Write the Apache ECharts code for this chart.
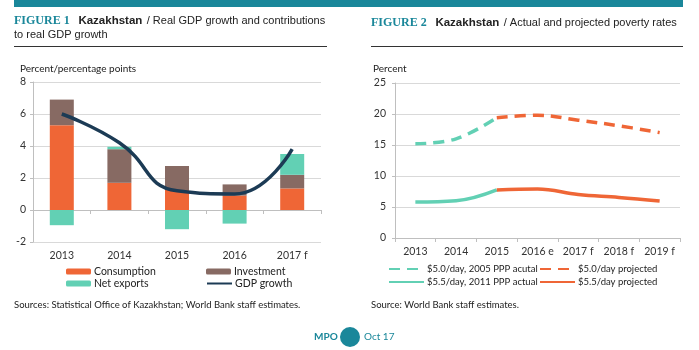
<!DOCTYPE html>
<html>
<head>
<meta charset="utf-8">
<script src="https://cdn.jsdelivr.net/npm/echarts@6/dist/echarts.min.js"></script>
<style>
  html, body { margin: 0; padding: 0; background: #fff; }
  #chart { width: 699px; height: 350px; }
</style>
</head>
<body>
<div id="chart"></div>
<script>
// Figure 1 data
const years1 = ['2013', '2014', '2015', '2016', '2017 f']
const consumption = [5.3, 1.7, 1.25, 0.9, 1.35]
const investment = [1.6, 2.1, 1.5, 0.7, 0.85]
const netExports = [-0.95, 0.15, -1.2, -0.85, 1.3]
const gdpGrowth = [6.0, 4.2, 1.2, 1.0, 3.8]
// Figure 2 data
const years2 = ['2013', '2014', '2015', '2016 e', '2017 f', '2018 f', '2019 f']
const pov50Actual = [15.2, 16.0, 19.4, null, null, null, null]
const pov50Proj = [null, null, 19.4, 19.8, 19.0, 18.1, 17.0]
const pov55Actual = [5.8, 6.0, 7.75, null, null, null, null]
const pov55Proj = [null, null, 7.75, 7.9, 7.0, 6.55, 5.95]

const teal = '#1A879A'
const cOrange = '#EF6636'
const cBrown = '#876A63'
const cMint = '#62D0B4'
const cNavy = '#1C3B55'
const font = 'Lato'
const wide = 'Liberation Sans'
const gridColor = '#D9D9D9'

const chart = echarts.init(document.getElementById('chart'))

const titleRich = {
  a: { fontFamily: 'Liberation Serif', fontWeight: 'bold', fontSize: 12, color: teal },
  b: { fontFamily: wide, fontWeight: 'bold', fontSize: 11.5, color: '#222' },
  c: { fontFamily: wide, fontWeight: 'normal', fontSize: 11, color: '#222' }
}

// legend helper - one legend per item so they can sit in a 2x2 block
const leg = (name, left, top, w, h, fs) => ({
  data: [name], left: left, top: top, itemWidth: w, itemHeight: h,
  padding: 0, itemGap: 0,
  itemStyle: { opacity: 0 },
  textStyle: { fontFamily: font, fontSize: fs || 10.5, color: '#222', padding: [0, 0, 0, -2] }
})
const barLeg = (name, left, top) => Object.assign(leg(name, left, top, 25, 6), { itemStyle: {} })

const option = {
  animation: false,
  textStyle: { fontFamily: font },
  title: [
    {
      left: 14, top: 14, padding: 0,
      text: '{a|FIGURE 1}  {b|Kazakhstan} {c|/ Real GDP growth and contributions}\n{c|to real GDP growth}',
      textStyle: { rich: titleRich, lineHeight: 14 }
    },
    {
      left: 371, top: 14, padding: 0,
      text: '{a|FIGURE 2}  {b|Kazakhstan} {c|/ Actual and projected poverty rates}',
      textStyle: { rich: titleRich }
    }
  ],
  legend: [
    barLeg('Consumption', 66, 266),
    barLeg('Investment', 206, 266),
    barLeg('Net exports', 66, 278),
    leg('GDP growth', 206, 278, 25, 6),
    leg('$5.0/day, 2005 PPP acutal', 388, 264, 35, 12, 9.5),
    leg('$5.0/day projected', 539, 264, 35, 12, 9.5),
    leg('$5.5/day, 2011 PPP actual', 388, 277, 35, 12, 9.5),
    leg('$5.5/day projected', 539, 277, 35, 12, 9.5)
  ],
  grid: [
    { left: 33, top: 82, width: 288, height: 160 },
    { left: 395, top: 83, width: 285, height: 155 }
  ],
  xAxis: [
    {
      gridIndex: 0, type: 'category', data: years1,
      axisLine: { show: false, onZero: false }, axisTick: { show: false },
      axisLabel: { fontSize: 10.5, color: '#333', margin: 8, interval: 0 }
    },
    {
      gridIndex: 0, type: 'category', data: years1, position: 'bottom',
      axisLine: { onZero: true, lineStyle: { color: '#BFBFBF' } },
      axisTick: { show: true, length: 4, lineStyle: { color: '#BFBFBF' } },
      axisLabel: { show: false }
    },
    {
      gridIndex: 1, type: 'category', data: years2,
      axisLine: { lineStyle: { color: '#BFBFBF' } },
      axisTick: { show: true, length: 4, lineStyle: { color: '#BFBFBF' } },
      axisLabel: { fontSize: 10.5, color: '#333', margin: 8, interval: 0 }
    }
  ],
  yAxis: [
    {
      gridIndex: 0, type: 'value', min: -2, max: 8, interval: 2,
      axisLine: { show: true, lineStyle: { color: '#BFBFBF' } },
      axisTick: { show: true, length: 3, lineStyle: { color: '#BFBFBF' } },
      axisLabel: { fontSize: 10.5, color: '#333', margin: 7 },
      splitLine: { lineStyle: { color: gridColor } }
    },
    {
      gridIndex: 1, type: 'value', min: 0, max: 25, interval: 5,
      axisLine: { show: true, lineStyle: { color: '#BFBFBF' } },
      axisTick: { show: true, length: 3, lineStyle: { color: '#BFBFBF' } },
      axisLabel: { fontSize: 10.5, color: '#333', margin: 9 },
      splitLine: { lineStyle: { color: gridColor } }
    }
  ],
  series: [
    { name: 'Consumption', type: 'bar', stack: 'c', data: consumption, barWidth: 24,
      itemStyle: { color: cOrange } },
    { name: 'Investment', type: 'bar', stack: 'c', data: investment, barWidth: 24,
      itemStyle: { color: cBrown } },
    { name: 'Net exports', type: 'bar', stack: 'c', data: netExports, barWidth: 24,
      itemStyle: { color: cMint } },
    { name: 'GDP growth', type: 'line', data: gdpGrowth, smooth: 0.5, symbol: 'none',
      lineStyle: { color: cNavy, width: 3.5 }, itemStyle: { color: cNavy } },
    { name: '$5.0/day, 2005 PPP acutal', type: 'line', xAxisIndex: 2, yAxisIndex: 1,
      data: pov50Actual, smooth: 0.4, symbol: 'none',
      lineStyle: { color: cMint, width: 3.5, type: [11, 7] }, itemStyle: { color: cMint } },
    { name: '$5.0/day projected', type: 'line', xAxisIndex: 2, yAxisIndex: 1,
      data: pov50Proj, smooth: 0.4, symbol: 'none',
      lineStyle: { color: cOrange, width: 3.5, type: [11, 7] }, itemStyle: { color: cOrange } },
    { name: '$5.5/day, 2011 PPP actual', type: 'line', xAxisIndex: 2, yAxisIndex: 1,
      data: pov55Actual, smooth: 0.4, symbol: 'none',
      lineStyle: { color: cMint, width: 3.5 }, itemStyle: { color: cMint } },
    { name: '$5.5/day projected', type: 'line', xAxisIndex: 2, yAxisIndex: 1,
      data: pov55Proj, smooth: 0.4, symbol: 'none',
      lineStyle: { color: cOrange, width: 3.5 }, itemStyle: { color: cOrange } }
  ],
  graphic: [
    // header band
    { type: 'rect', shape: { x: 14, y: 0, width: 669, height: 7 }, style: { fill: teal } },
    // rules under titles
    { type: 'line', shape: { x1: 14, y1: 46.5, x2: 327, y2: 46.5 }, style: { stroke: '#333', lineWidth: 1 } },
    { type: 'line', shape: { x1: 371, y1: 46.5, x2: 683, y2: 46.5 }, style: { stroke: '#333', lineWidth: 1 } },
    // axis captions
    { type: 'text', left: 20, top: 64, style: { text: 'Percent/percentage points', font: '10px Lato', fill: '#222' } },
    { type: 'text', left: 373, top: 64, style: { text: 'Percent', font: '10px Lato', fill: '#222' } },
    // sources
    { type: 'text', left: 14, top: 300, style: { text: 'Sources: Statistical Office of Kazakhstan; World Bank staff estimates.', font: '9.5px Lato', fill: '#222' } },
    { type: 'text', left: 371, top: 300, style: { text: 'Source: World Bank staff estimates.', font: '9.5px Lato', fill: '#222' } },
    // footer
    { type: 'text', left: 314, top: 332, style: { text: 'MPO', font: 'bold 10px Lato', fill: teal } },
    { type: 'circle', shape: { cx: 350, cy: 337, r: 10 }, style: { fill: teal } },
    { type: 'text', left: 364, top: 332, style: { text: 'Oct 17', font: '10px Lato', fill: teal } }
  ]
}

chart.setOption(option)
</script>
</body>
</html>
